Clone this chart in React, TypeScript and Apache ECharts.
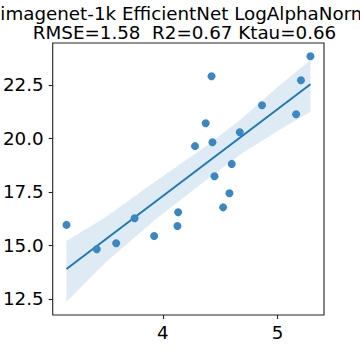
import React, { useEffect, useRef } from "react";
import * as echarts from "echarts";

const titleLines = ["imagenet-1k EfficientNet LogAlphaNorm", "RMSE=1.58  R2=0.67 Ktau=0.66"];

const pointX = [3.16, 3.424, 3.593, 3.754, 3.924, 4.127, 4.133, 4.58, 4.525, 5.286, 4.424, 5.203, 4.864, 5.161, 4.373, 4.67, 4.28, 4.432, 4.6, 4.45];
const pointY = [15.96, 14.82, 15.1, 16.27, 15.44, 15.91, 16.55, 17.44, 16.78, 23.84, 22.91, 22.72, 21.55, 21.13, 20.71, 20.29, 19.64, 19.82, 18.81, 18.23];

const fitX = [3.16, 5.286];
const fitY = [13.9, 22.53];

const bandX = [3.16, 3.5, 3.93, 4.4, 4.69, 5.0, 5.286];
const bandLower = [12.37, 14.2, 16.19, 18.15, 19.31, 20.35, 21.25];
const bandUpper = [15.21, 16.32, 17.98, 19.73, 20.94, 22.4, 23.67];

const xTicks = [4, 5];
const yTicks = [12.5, 15, 17.5, 20, 22.5];

export default function App() {
  const ref = useRef<HTMLDivElement>(null);
  useEffect(() => {
    if (!ref.current) return;
    const chart = echarts.init(ref.current, undefined, { renderer: "svg" });
    const font = "DejaVu Sans";
    chart.setOption({
      animation: false,
      textStyle: { fontFamily: font },
      graphic: titleLines.map((t, i) => ({
        type: "text",
        x: 184.5,
        y: 13 + i * 19,
        style: { text: t, fontSize: 18.3, fontFamily: font, fill: "#000", textAlign: "center", textVerticalAlign: "middle" },
      })),
      grid: { left: 45, right: 36, top: 43, bottom: 45, show: true, borderColor: "#222", borderWidth: 1.1, backgroundColor: "transparent" },
      xAxis: {
        type: "value",
        min: 3.04,
        max: 5.404,
        splitLine: { show: false },
        axisLine: { show: false },
        axisTick: { show: true, length: 4, customValues: xTicks, lineStyle: { color: "#222", width: 1.1 } },
        axisLabel: { customValues: xTicks, fontSize: 18.3, color: "#000", fontFamily: font, margin: 8, formatter: (v: number) => String(v) },
      },
      yAxis: {
        type: "value",
        min: 11.75,
        max: 24.46,
        splitLine: { show: false },
        axisLine: { show: false },
        axisTick: { show: true, length: 4, customValues: yTicks, lineStyle: { color: "#222", width: 1.1 } },
        axisLabel: { customValues: yTicks, fontSize: 18.3, color: "#000", fontFamily: font, margin: 9, formatter: (v: number) => v.toFixed(1) },
      },
      series: [
        {
          type: "custom",
          silent: true,
          data: bandX.map((x, i) => [x, bandLower[i], bandUpper[i]]),
          renderItem: (params: any, api: any) => {
            if (params.dataIndex !== 0) return null;
            const upper = bandX.map((x, i) => api.coord([x, bandUpper[i]]));
            const lower = bandX.map((x, i) => api.coord([x, bandLower[i]])).reverse();
            return {
              type: "polygon",
              shape: { points: upper.concat(lower) },
              style: { fill: "rgba(31,119,180,0.15)", stroke: "none" },
            };
          },
          z: 1,
        },
        {
          type: "line",
          data: fitX.map((x, i) => [x, fitY[i]]),
          symbol: "none",
          lineStyle: { color: "#1f77b4", width: 2 },
          z: 3,
        },
        {
          type: "scatter",
          data: pointX.map((x, i) => [x, pointY[i]]),
          symbolSize: 8,
          itemStyle: { color: "#3b87c2", opacity: 1 },
          z: 4,
        },
      ],
    });
    return () => chart.dispose();
  }, []);
  return <div ref={ref} style={{ width: 360, height: 360, position: "absolute", left: 0, top: 0 }} />;
}
